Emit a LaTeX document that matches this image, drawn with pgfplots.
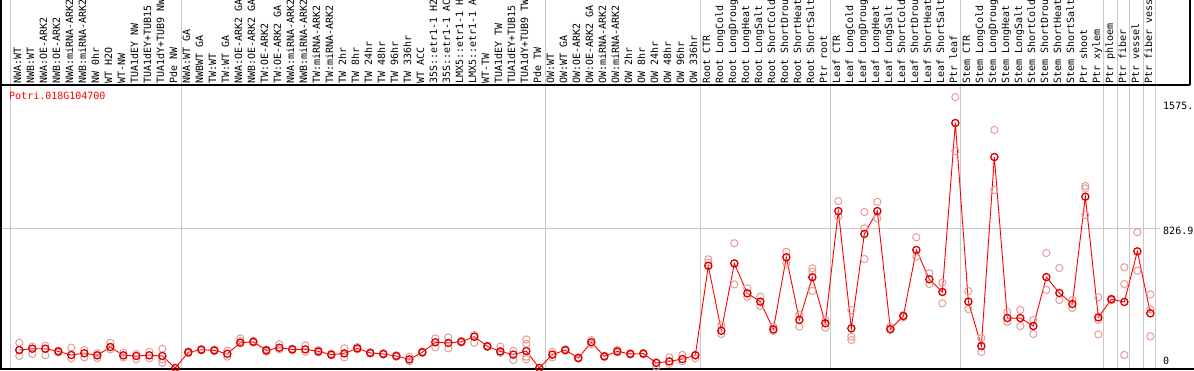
\documentclass[border=0pt]{standalone}
\usepackage{fontspec}
\setmonofont{DejaVu Sans Mono}
\usepackage{pgfplots}
\pgfplotsset{compat=1.18}
\definecolor{gridgray}{HTML}{C8C8C8}
\definecolor{reppink}{HTML}{E89A9A}
\definecolor{meanred}{HTML}{FF0000}
\pgfplotstableread{
x y
0 106
1 114
2 114
3 98
4 77
5 87
6 75
7 124
8 75
9 71
10 75
11 71
12 0
13 93
14 108
15 104
16 84
17 149
18 155
19 104
20 120
21 110
22 110
23 98
24 79
25 86
26 116
27 89
28 83
29 71
30 51
31 93
32 152
33 148
34 155
35 185
36 128
37 98
38 79
39 100
40 0
41 79
42 106
43 59
44 152
45 69
46 98
47 83
48 85
49 30
50 39
51 53
52 75
53 604
54 220
55 618
56 441
57 392
58 228
59 654
60 284
61 536
62 264
63 927
64 234
65 792
66 927
67 230
68 307
69 697
70 524
71 449
72 1447
73 392
74 130
75 1246
76 295
77 295
78 248
79 537
80 443
81 378
82 1012
83 299
84 406
85 390
86 689
87 323
}\means
\pgfplotstableread{
x y
0 149
0 71
1 126
1 83
2 132
2 75
3 102
3 92
4 120
4 57
5 106
5 63
6 87
6 59
7 149
7 110
8 90
8 63
9 83
9 51
10 96
10 57
11 114
11 51
11 31
13 98
13 88
14 112
14 104
15 108
15 100
16 102
16 67
17 175
17 160
18 160
18 150
19 110
19 96
20 140
20 110
21 114
21 106
22 134
22 96
23 106
23 92
24 84
24 75
25 116
25 63
26 124
26 110
27 93
27 85
28 87
28 79
29 75
29 67
30 67
30 40
31 97
31 89
32 175
32 122
33 181
33 116
34 160
34 150
35 195
35 149
36 132
36 124
37 126
37 90
38 102
38 47
39 169
39 142
39 67
39 51
41 96
41 63
42 110
42 102
43 63
43 55
44 165
44 140
45 73
45 65
46 108
46 92
47 87
47 79
48 89
48 81
49 8
49 34
50 63
50 25
51 77
51 40
52 79
52 57
53 642
53 622
54 254
54 201
55 737
55 494
56 471
56 421
57 421
57 366
58 244
58 220
59 687
59 618
60 313
60 244
61 589
61 569
61 455
62 284
62 238
63 986
63 894
64 343
64 185
64 165
65 921
65 825
65 644
66 981
66 884
67 244
67 225
68 312
68 300
69 772
69 657
70 559
70 496
71 504
71 382
72 1600
72 1281
73 455
73 348
74 177
74 95
75 1406
75 1051
76 331
76 272
77 343
77 248
78 284
78 201
79 679
79 461
80 591
80 402
81 402
81 354
82 1075
82 1061
82 904
83 418
83 284
83 199
84 410
84 400
85 595
85 496
85 77
86 802
86 575
87 435
87 347
87 187
}\reps
\begin{document}
\begin{tikzpicture}
\useasboundingbox (0,0) rectangle (1194pt,370pt);
\begin{scope}[x=1pt,y=-1pt,yshift=370pt]
  \foreach \gx in {10,181,545,700,830,960,1103,1117,1129,1143,1155}
    \draw[gridgray, line width=1pt] (\gx,0) -- (\gx,369);
  \draw[gridgray, line width=1pt] (1,228) -- (1160,228);
  \draw[black, line width=1.2pt] (1,0) -- (1,369);
  \draw[black, line width=1.2pt] (0,85) -- (1190,85);
  \draw[black, line width=1.2pt] (1190,0) -- (1190,85);
  \draw[black, line width=1.2pt] (0,369) -- (1194,369);
\end{scope}
\begin{axis}[at={(0,0)}, anchor=south west,
  width=1194pt, height=370pt, scale only axis,
  xmin=-1.4846, xmax=90.362, ymin=-11.81, ymax=2173.66,
  hide axis]
\addplot[only marks, mark=o, mark size=3.6pt, color=reppink, mark options={line width=1pt}] table[x=x,y=y] {\reps};
\addplot[meanred, line width=0.9pt, mark=o, mark size=3.6pt, mark options={line width=1.3pt, draw=red!85!black}] table[x=x,y=y] {\means};
\end{axis}
\begin{scope}[x=1pt,y=-1pt,yshift=370pt]
  \fontsize{10}{12}\selectfont
  \foreach \i/\t in {0/NWA:WT,1/NWB:WT,2/NWA:OE-ARK2,3/NWB:OE-ARK2,4/NWA:miRNA-ARK2,5/NWB:miRNA-ARK2,6/NW 0hr,7/WT H2O,8/WT-NW,9/TUA1dEY NW,10/TUA1dEY+TUB15,11/TUA1dY+TUB9 NW,12/Pde NW,
    13/NWA:WT GA,14/NWBWT GA,15/TW:WT,16/TW:WT GA,17/NWA:OE-ARK2 GA,18/NWB:OE-ARK2 GA,19/TW:OE-ARK2,20/TW:OE-ARK2 GA,21/NWA:miRNA-ARK2,22/NWB:miRNA-ARK2,23/TW:miRNA-ARK2,24/TW:miRNA-ARK2,25/TW 2hr,26/TW 8hr,27/TW 24hr,28/TW 48hr,29/TW 96hr,30/TW 336hr,31/WT ACC,32/35S::etr1-1 H2,33/35S::etr1-1 AC,34/LMX5::etr1-1 H,35/LMX5::etr1-1 A,36/WT-TW,37/TUA1dEY TW,38/TUA1dEY+TUB15,39/TUA1dY+TUB9 TW,40/Pde TW,
    41/OW:WT,42/OW:WT GA,43/OW:OE-ARK2,44/OW:OE-ARK2 GA,45/OW:miRNA-ARK2,46/OW:miRNA-ARK2,47/OW 2hr,48/OW 8hr,49/OW 24hr,50/OW 48hr,51/OW 96hr,52/OW 336hr,
    53/Root CTR,54/Root LongCold,55/Root LongDroug,56/Root LongHeat,57/Root LongSalt,58/Root ShortCold,59/Root ShortDrou,60/Root ShortHeat,61/Root ShortSalt,62/Ptr root,
    63/Leaf CTR,64/Leaf LongCold,65/Leaf LongDroug,66/Leaf LongHeat,67/Leaf LongSalt,68/Leaf ShortCold,69/Leaf ShortDrou,70/Leaf ShortHeat,71/Leaf ShortSalt,72/Ptr leaf,
    73/Stem CTR,74/Stem LongCold,75/Stem LongDroug,76/Stem LongHeat,77/Stem LongSalt,78/Stem ShortCold,79/Stem ShortDrou,80/Stem ShortHeat,81/Stem ShortSalt,82/Ptr shoot,
    83/Ptr xylem,84/Ptr phloem,85/Ptr fiber,86/Ptr vessel,87/Ptr fiber vess}
  {
    \pgfmathsetmacro{\lx}{19+13*\i}
    \node[rotate=90, anchor=mid west, inner sep=0pt, font=\ttfamily\fontsize{10}{12}\selectfont] at (\lx,83.5) {\t};
  }
  \node[anchor=mid west, inner sep=0pt, text=red, font=\ttfamily\fontsize{10}{12}\selectfont] at (9,97) {Potri.018G104700};
  \node[anchor=mid west, inner sep=0pt, font=\ttfamily\fontsize{10}{12}\selectfont] at (1163,107) {1575.};
  \node[anchor=mid west, inner sep=0pt, font=\ttfamily\fontsize{10}{12}\selectfont] at (1163,232) {826.9};
  \node[anchor=mid west, inner sep=0pt, font=\ttfamily\fontsize{10}{12}\selectfont] at (1163,362) {0};
\end{scope}
\end{tikzpicture}
\end{document}
